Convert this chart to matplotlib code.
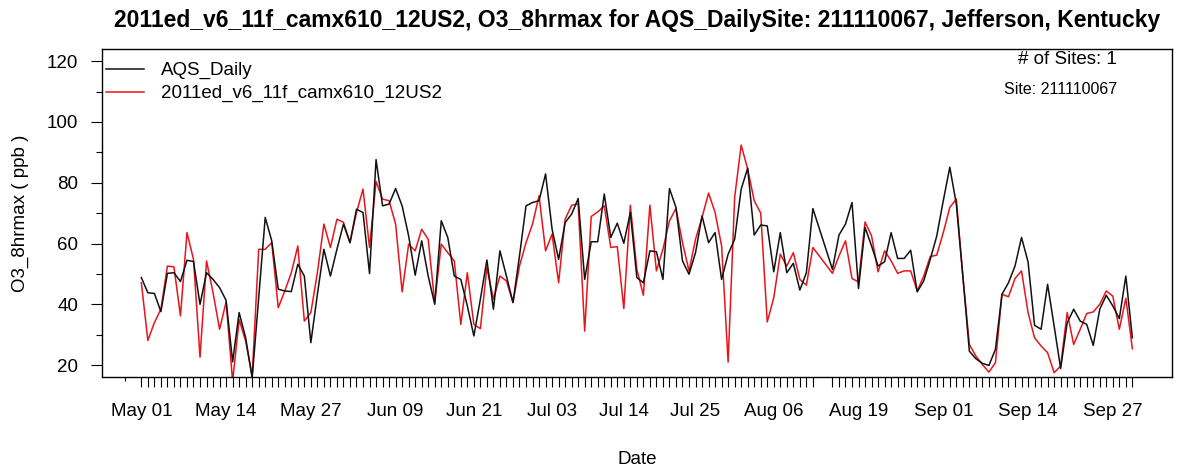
import numpy as np
import pandas as pd
import matplotlib
matplotlib.use("Agg")
import matplotlib.pyplot as plt
import matplotlib.dates as mdates
from matplotlib.lines import Line2D

plt.rcParams['font.family'] = ['Liberation Sans', 'DejaVu Sans']

# -------------------------------- Data ---------------------------------------
start_date = "2011-05-01"
end_date = "2011-09-30"
missing_dates = ["2011-08-13", "2011-08-14"]          # no observation on these days
lone_tick = "2011-04-28 12:00"                         # extra axis tick left of the data

label_dates = ["2011-05-01", "2011-05-14", "2011-05-27", "2011-06-09", "2011-06-21",
               "2011-07-03", "2011-07-14", "2011-07-25", "2011-08-06", "2011-08-19",
               "2011-09-01", "2011-09-14", "2011-09-27"]
label_text = ["May 01", "May 14", "May 27", "Jun 09", "Jun 21", "Jul 03", "Jul 14",
              "Jul 25", "Aug 06", "Aug 19", "Sep 01", "Sep 14", "Sep 27"]

# AQS observed O3 8hr max (ppb)
obs_o3 = [48.8, 43.8, 43.6, 37.6, 50.2, 50.4, 47.5, 54.5, 54.1, 40.0,
          50.4, 48.2, 45.5, 41.3, 21.1, 37.3, 29.0, 15.8, 42.0, 68.6,
          60.9, 45.0, 44.4, 44.2, 53.2, 49.3, 27.4, 43.3, 58.1, 49.3,
          58.1, 66.4, 60.3, 71.3, 70.2, 50.1, 87.6, 72.4, 73.0, 78.1,
          72.4, 62.5, 49.6, 60.9, 49.3, 40.0, 67.5, 62.0, 49.3, 48.2,
          39.5, 29.6, 41.7, 54.6, 38.4, 57.6, 49.3, 40.6, 55.9, 72.4,
          73.5, 74.1, 82.9, 64.7, 54.8, 66.9, 69.7, 74.8, 48.2, 60.6,
          60.6, 76.3, 62.0, 66.7, 60.1, 70.2, 48.8, 47.1, 57.6, 57.3,
          48.2, 78.1, 71.9, 54.3, 49.9, 57.0, 69.1, 60.3, 63.6, 48.2,
          56.5, 61.4, 77.9, 84.8, 62.8, 66.1, 65.8, 50.7, 63.6, 50.4,
          53.5, 44.7, 50.4, 71.5,
          51.5, 62.8, 66.4, 73.5, 45.2, 65.3, 59.2, 52.6, 54.0, 63.6,
          55.1, 55.1, 57.8, 44.1, 47.7, 54.8, 62.5, 74.1, 85.1, 73.0,
          49.3, 24.6, 22.1, 20.6, 19.9, 25.2, 43.3, 47.1, 52.6, 62.0,
          54.0, 33.1, 31.8, 46.6, 32.9, 18.9, 33.9, 38.4, 34.5, 33.4,
          26.5, 38.4, 43.0, 39.5, 35.3, 49.3, 29.0]

# CAMx model O3 8hr max (ppb)
model_o3 = [47.1, 28.1, 34.0, 38.4, 52.6, 52.3, 36.2, 63.6, 54.8, 22.6,
            54.3, 43.8, 31.8, 40.8, 14.7, 35.0, 27.9, 16.4, 58.1, 58.1,
            60.3, 38.9, 44.4, 50.4, 59.2, 34.5, 37.3, 50.4, 66.4, 58.7,
            68.0, 67.0, 60.3, 70.2, 77.9, 58.7, 80.4, 74.6, 74.1, 66.4,
            44.1, 59.8, 57.6, 64.7, 61.4, 40.6, 59.8, 57.0, 54.3, 33.4,
            50.4, 33.4, 32.0, 52.1, 41.7, 49.3, 47.7, 40.6, 52.6, 60.3,
            66.4, 75.7, 57.6, 63.1, 47.1, 68.0, 72.6, 73.0, 31.2, 68.9,
            70.4, 72.4, 58.7, 59.0, 38.6, 72.6, 51.5, 43.0, 72.6, 51.0,
            58.1, 67.5, 71.5, 60.3, 51.0, 61.4, 68.6, 76.6, 70.2, 59.2,
            21.0, 75.2, 92.4, 84.5, 74.1, 70.0, 34.2, 42.2, 56.5, 52.6,
            57.0, 48.2, 46.3, 58.7,
            50.2, 55.9, 60.9, 48.5, 47.4, 67.1, 62.5, 50.7, 57.6, 54.3,
            50.2, 51.0, 51.0, 44.4, 49.3, 55.7, 56.2, 63.6, 71.9, 74.6,
            49.3, 26.8, 23.0, 20.2, 17.7, 20.8, 43.3, 42.5, 48.5, 51.0,
            37.3, 29.0, 26.3, 24.1, 17.5, 19.7, 37.3, 26.8, 31.8, 37.0,
            37.5, 40.0, 44.4, 42.7, 31.8, 42.0, 25.4]

all_days = pd.date_range(start_date, end_date, freq="D")
dates = all_days[~all_days.isin(pd.to_datetime(missing_dates))]


# -------------------------------- Figure -------------------------------------
W, H = 1177, 472
fig = plt.figure(figsize=(W / 100, H / 100), dpi=100)
fig.patch.set_facecolor("white")

def fx(px):                                    # pixel -> figure coords
    return px / W

def fy(py):
    return 1 - py / H

ax = fig.add_axes([fx(101.7), fy(377.3), fx(1172) - fx(101.7), fy(49) - fy(377.3)])

ax.plot(dates, model_o3, color="#e8141c", lw=1.1, zorder=2)
ax.plot(dates, obs_o3, color="#111111", lw=1.1, zorder=3)

# R style limits: 4% padding around the range
x0 = mdates.date2num(dates[0])
x1 = mdates.date2num(dates[-1])
span = x1 - x0
ax.set_xlim(x0 - 0.04 * span, x1 + 0.04 * span)
ax.set_ylim(20 - 0.04 * 100, 120 + 0.04 * 100)

# x ticks: one per data day, labels only on a few
lab = dict(zip(pd.to_datetime(label_dates), label_text))
ax.set_xticks(mdates.date2num(dates))
ax.set_xticklabels([lab.get(d, "") for d in dates])
ax.set_xticks([mdates.date2num(pd.Timestamp(lone_tick))], minor=True)
ax.tick_params(axis="x", which="major", length=7.2, width=0.8, pad=11, labelsize=13.5)
ax.tick_params(axis="x", which="minor", length=3, width=0.8)

ax.set_yticks([20, 40, 60, 80, 100, 120])
ax.set_yticks([30, 50, 70, 90, 110], minor=True)
ax.tick_params(axis="y", which="major", length=7.9, width=0.8, pad=9, labelsize=13.5)
ax.tick_params(axis="y", which="minor", length=4.3, width=0.8)

for s in ax.spines.values():
    s.set_linewidth(1.0)

ax.set_xlabel("Date", fontsize=13.5, va="center")
ax.xaxis.set_label_coords(fx(637), fy(459), transform=fig.transFigure)
ax.set_ylabel("O3_8hrmax ( ppb )", fontsize=13.5, va="center")
ax.yaxis.set_label_coords(fx(20), fy(213), transform=fig.transFigure)

# legend
handles = [Line2D([], [], color="#111111", lw=1.1),
           Line2D([], [], color="#e8141c", lw=1.1)]
ax.legend(handles, ["AQS_Daily", "2011ed_v6_11f_camx610_12US2"], loc="upper left",
          bbox_to_anchor=(fx(106), fy(62)), bbox_transform=fig.transFigure,
          frameon=False, fontsize=13.5, borderpad=0, borderaxespad=0,
          handlelength=2.0, handletextpad=0.95, labelspacing=0.3)

fig.text(fx(637), fy(20), "2011ed_v6_11f_camx610_12US2, O3_8hrmax for AQS_DailySite: 211110067, Jefferson, Kentucky",
         ha="center", va="center", fontsize=16.5, fontweight="bold")
fig.text(fx(1117), fy(60), "# of Sites: 1", ha="right", va="center", fontsize=13.5)
fig.text(fx(1117), fy(89), "Site: 211110067", ha="right", va="center", fontsize=11.5)

fig.savefig("out.png", dpi=100)
